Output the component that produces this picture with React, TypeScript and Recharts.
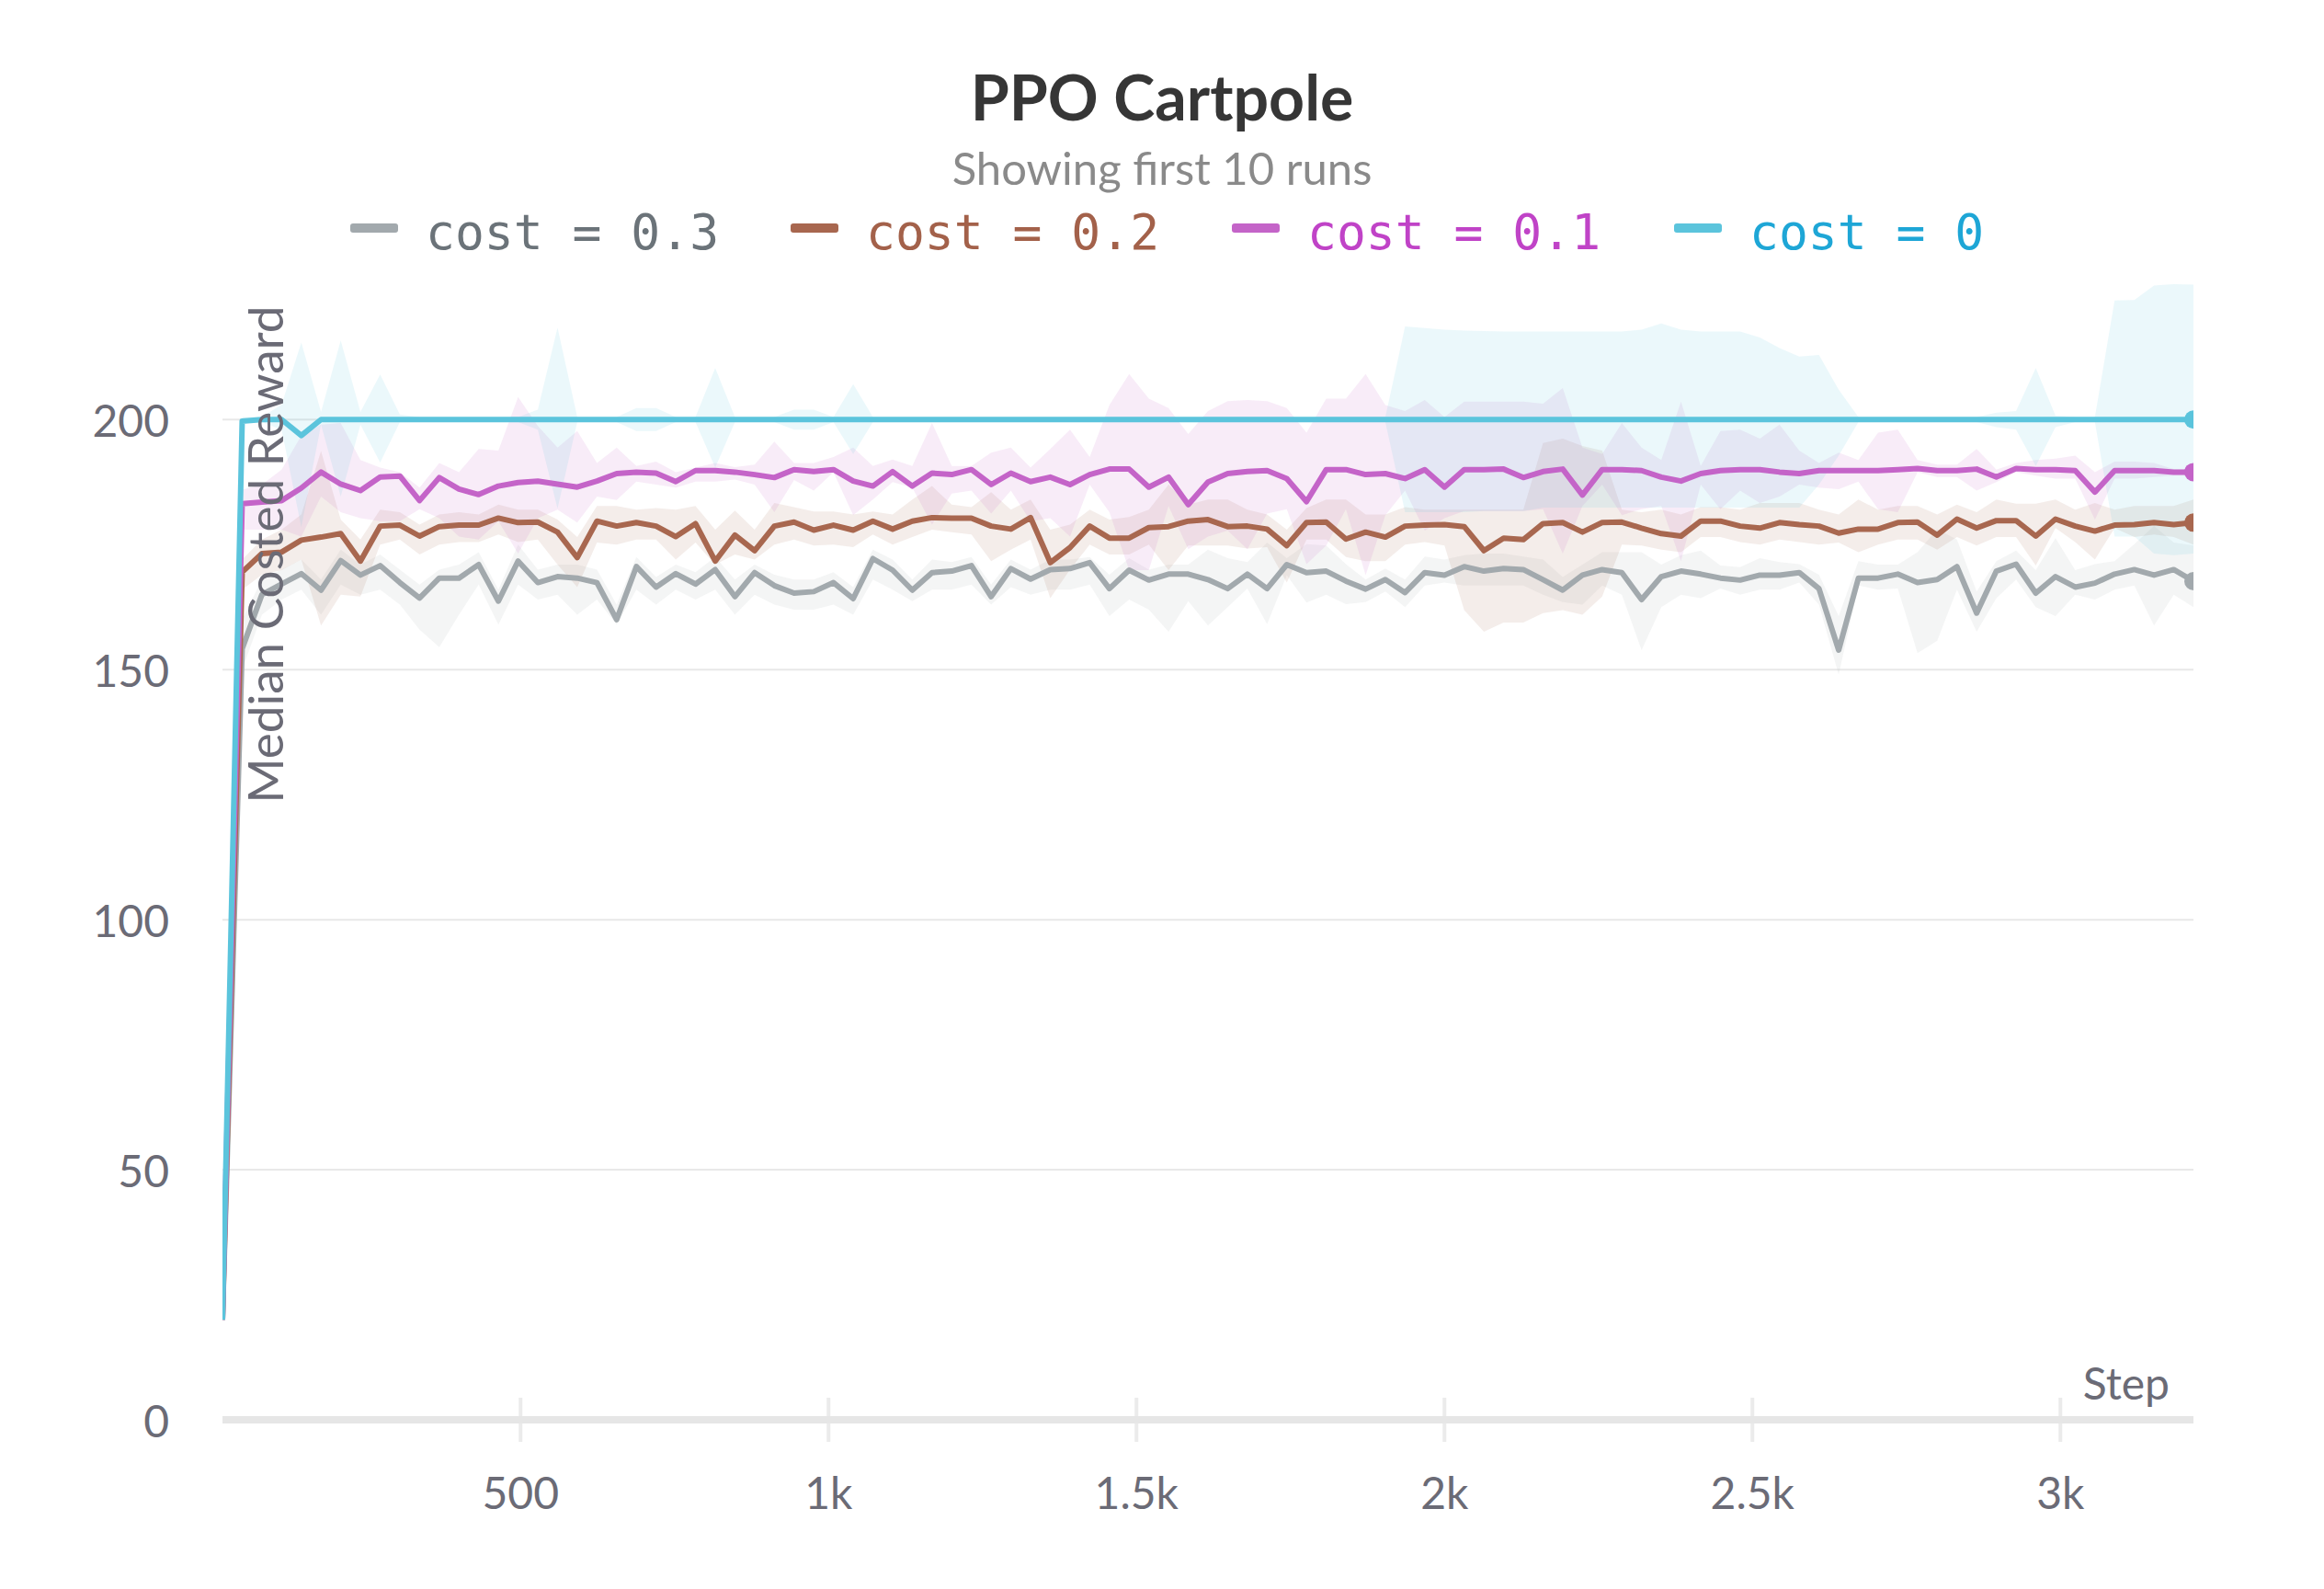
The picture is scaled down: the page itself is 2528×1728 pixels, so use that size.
import React from "react"
import { Area, CartesianGrid, ComposedChart, Line, XAxis, YAxis } from "recharts"

// x positions (training step) of the logged points
const STEPS = [
  16, 48, 80, 112, 144, 176, 208, 240, 272, 304,
  336, 368, 400, 432, 464, 496, 528, 560, 592, 624,
  656, 688, 720, 752, 784, 816, 848, 880, 912, 944,
  976, 1008, 1040, 1072, 1104, 1136, 1168, 1200, 1232, 1264,
  1296, 1328, 1360, 1392, 1424, 1456, 1488, 1520, 1552, 1584,
  1616, 1648, 1680, 1712, 1744, 1776, 1808, 1840, 1872, 1904,
  1936, 1968, 2000, 2032, 2064, 2096, 2128, 2160, 2192, 2224,
  2256, 2288, 2320, 2352, 2384, 2416, 2448, 2480, 2512, 2544,
  2576, 2608, 2640, 2672, 2704, 2736, 2768, 2800, 2832, 2864,
  2896, 2928, 2960, 2992, 3024, 3056, 3088, 3120, 3152, 3184,
  3216,
]

const X_TICKS = [500, 1000, 1500, 2000, 2500, 3000]
const X_TICK_LABELS = ["500", "1k", "1.5k", "2k", "2.5k", "3k"]
const Y_TICKS = [0, 50, 100, 150, 200]

// cost = 0.3
const COST_03 = [
  20, 154.2, 165.0, 167.1, 169.2, 165.9, 171.8, 168.9, 170.8, 167.4,
  164.3, 168.3, 168.3, 171.0, 163.7, 171.7, 167.4, 168.6, 168.3, 167.4,
  160.0, 170.6, 166.5, 169.2, 167.1, 170.0, 164.6, 169.4, 166.8, 165.3,
  165.6, 167.4, 164.2, 172.2, 169.9, 165.9, 169.4, 169.7, 170.8, 164.6,
  170.2, 168.1, 170.0, 170.2, 171.4, 166.2, 169.9, 167.9, 169.1, 169.1,
  168.0, 166.2, 169.1, 166.2, 171.0, 169.4, 169.7, 167.7, 166.1, 168.0,
  165.4, 169.4, 168.9, 170.6, 169.7, 170.2, 170.0, 168.0, 165.9, 168.9,
  170.0, 169.4, 164.0, 168.6, 169.7, 169.1, 168.3, 167.9, 168.9, 168.9,
  169.4, 166.2, 153.9, 168.3, 168.3, 169.1, 167.4, 168.0, 170.6, 161.3,
  169.7, 171.1, 165.3, 168.6, 166.5, 167.3, 169.1, 170.0, 168.9, 170.0,
  167.7,
]
const COST_03_MIN = [
  20, 150, 161, 164, 166, 161, 167, 165, 166, 163,
  158, 154.5, 161, 167, 159, 167, 164, 165, 161, 164,
  159, 166, 163, 166, 164, 166, 161, 165, 163, 162,
  162, 163, 161, 168, 166, 163.7, 166, 166, 167, 163,
  166.5, 165, 166, 166, 167, 160.7, 164, 162, 157.6, 163.7,
  158.8, 162.5, 166.2, 159.1, 168.9, 163.4, 165, 163.1, 163.5, 165.6,
  162.5, 166.8, 167.4, 166.8, 166.8, 166.8, 166.8, 165, 163.5, 163,
  166.8, 165, 153.9, 162.5, 165, 164.3, 166.2, 165, 166, 166,
  167.4, 163, 149, 166.8, 166, 166.2, 153.3, 155.8, 166, 157.6,
  164.3, 168, 162.5, 160.7, 165, 164, 166, 166.8, 158.8, 165,
  162.5,
]
const COST_03_MAX = [
  20, 160, 168, 170, 172, 168, 174, 171, 173, 170,
  167, 170, 171, 173.5, 166, 175, 170, 171, 171, 170,
  163, 172.5, 168.5, 171, 169.5, 172.5, 168, 171, 169, 168,
  168, 169.5, 166.5, 174, 172, 168, 172, 171.5, 172.5, 167,
  172, 170, 172, 172, 172.5, 169, 172.3, 170, 171, 171,
  174, 172.3, 171.5, 175.4, 172.3, 175.1, 174.8, 171.1, 168, 170.2,
  168, 172.6, 172, 172.9, 173.2, 173.2, 172.6, 172, 168.5, 171,
  173.5, 173.5, 173.5, 171, 172.9, 173.8, 170.8, 170.5, 172.3, 171.5,
  171.1, 169, 160.7, 171.7, 171, 171, 173.5, 178.1, 176, 165.6,
  171.7, 173.8, 169.9, 176.3, 169.9, 171.1, 171.7, 175.1, 178.7, 175.4,
  174.8,
]

// cost = 0.2
const COST_02 = [
  20, 169.5, 173.2, 173.5, 175.9, 176.5, 177.2, 171.7, 178.7, 178.9,
  176.7, 178.6, 178.9, 178.9, 180.3, 179.4, 179.5, 177.5, 172.4, 179.7,
  178.7, 179.4, 178.7, 176.6, 179.2, 171.7, 176.9, 173.8, 178.7, 179.5,
  177.9, 178.9, 177.9, 179.7, 178.1, 179.7, 180.4, 180.3, 180.3, 178.7,
  178.1, 180.4, 171.4, 174.4, 178.7, 176.3, 176.3, 178.4, 178.6, 179.7,
  180.0, 178.6, 178.7, 178.1, 174.8, 179.4, 179.5, 176.1, 177.5, 176.5,
  178.7, 178.9, 179.0, 178.6, 173.8, 176.3, 176.0, 179.2, 179.4, 177.5,
  179.4, 179.5, 178.3, 177.2, 176.7, 179.7, 179.7, 178.7, 178.3, 179.4,
  179.0, 178.7, 177.3, 178.1, 178.1, 179.4, 179.5, 176.9, 180.1, 178.3,
  179.8, 179.8, 176.7, 180.1, 178.7, 177.7, 178.9, 179.0, 179.4, 179.0,
  179.4,
]
const COST_02_MIN = [
  20, 166, 169, 169.9, 172, 158.8, 165, 164.6, 175, 176,
  173, 175, 175.5, 175.5, 177, 175.5, 176, 171, 166.5, 175.4,
  175, 176, 176, 172, 175.4, 171, 173, 172, 175, 176,
  174.8, 175, 174.5, 177, 175, 176.5, 178, 177.5, 177, 171.7,
  174, 176, 164.3, 170, 175, 173, 173, 175, 169.9, 174.8,
  174.8, 174.8, 174.2, 174.5, 167.4, 176, 176, 172.5, 171.7, 171.7,
  175, 175.5, 174.8, 161.9, 157.6, 159.4, 159.4, 161.3, 161.9, 161,
  164.6, 175, 174.8, 174, 173.5, 176.5, 176.5, 175.5, 175, 176,
  175.5, 175, 175.4, 173.5, 175, 176, 176, 174, 176.5, 174.8,
  176.5, 176.5, 170.8, 178.3, 175.5, 172, 178.3, 176.5, 177, 176.5,
  175,
]
const COST_02_MAX = [
  20, 172, 176, 178, 181, 193.7, 180, 176, 182, 181.5,
  179, 181, 181.5, 181, 183, 182, 182, 180, 176.5, 182.7,
  182.7, 182, 182.3, 182, 182.7, 178, 181.8, 178, 183.3, 182.5,
  181.6, 181.6, 181, 181.6, 181, 184, 186.7, 183, 182.5, 185.5,
  182, 184, 178, 179, 182, 180, 180.5, 182, 187, 183,
  184, 184, 182, 181, 178, 182.3, 184, 184, 181, 181,
  182.5, 182, 182, 182, 182, 182, 182, 195.3, 196.2, 194.7,
  193.8, 182, 181.5, 182, 181, 182.5, 182.5, 182, 183.3, 183.3,
  183.3, 182, 181, 184, 182, 182.7, 182.7, 181, 183, 181.5,
  184, 183.2, 183.2, 184, 182, 183.3, 182, 182.7, 182.7, 182.7,
  184,
]

// cost = 0.1
const COST_01 = [
  20, 183.2, 183.5, 183.8, 186.3, 189.5, 187.1, 185.8, 188.5, 188.7,
  183.8, 188.4, 186.1, 185.0, 186.7, 187.4, 187.7, 187.1, 186.5, 187.7,
  189.2, 189.5, 189.3, 187.6, 189.8, 189.8, 189.5, 189.0, 188.4, 190.0,
  189.6, 190.0, 187.7, 186.7, 189.6, 186.7, 189.3, 189.0, 190.0, 187.0,
  189.3, 187.6, 188.5, 187.0, 189.0, 190.1, 190.1, 186.5, 188.5, 183.0,
  187.5, 189.2, 189.6, 189.8, 188.2, 183.6, 190.0, 190.0, 189.0, 189.2,
  188.2, 190.0, 186.5, 190.0, 190.0, 190.1, 188.4, 189.6, 190.1, 184.9,
  190.0, 190.0, 189.8, 188.5, 187.7, 189.2, 189.8, 190.0, 190.0, 189.5,
  189.2, 189.8, 189.8, 189.8, 189.8, 190.0, 190.2, 189.8, 189.8, 190.1,
  188.5, 190.2, 190.0, 190.0, 189.8, 185.5, 189.8, 189.8, 189.8, 189.5,
  189.5,
]
const COST_01_MIN = [
  20, 178, 178, 178, 176.6, 184.6, 181.5, 180.3, 179.7, 179.7,
  182.1, 180.3, 176.6, 176, 179.7, 173.2, 180.3, 182, 179.4, 184.6,
  183.9, 187.6, 187, 186.4, 187.6, 187.6, 188, 187, 181.5, 187.9,
  185.8, 189.5, 180.9, 184, 187.5, 186.4, 179, 185.2, 185.8, 181.2,
  185.8, 179.7, 180.3, 176.6, 187, 181.5, 169.9, 169.9, 182.7, 174.1,
  176.6, 177.8, 174.1, 181.2, 182.1, 171.1, 174.8, 182.1, 168.9, 180.9,
  185.8, 177.8, 180.3, 181.7, 181.7, 181.7, 181.7, 182.1, 173.2, 182.7,
  187, 180.9, 182.1, 182.7, 171.7, 187, 182.1, 185.8, 183.3, 184.6,
  187, 186.4, 186.1, 187.6, 182.1, 181.5, 189.5, 188.5, 188.5, 185.8,
  187.5, 189.5, 188.8, 188.2, 188.2, 180, 188.2, 188.2, 188.5, 188.8,
  188.8,
]
const COST_01_MAX = [
  20, 186, 187, 190, 196.8, 199, 199.3, 191.9, 190.4, 189.5,
  186.4, 191.3, 189.5, 194.1, 193.8, 204.5, 198.7, 194.4, 197.7, 191.3,
  194.4, 190.7, 191.6, 189.5, 190.4, 191.3, 190.5, 191, 195.6, 191.3,
  191.3, 192.5, 194.4, 190.7, 192, 190.7, 199.3, 190.7, 190.7, 193.4,
  194.4, 190.4, 194.1, 198, 192.5, 202.9, 209.1, 204.2, 202.3, 197.1,
  201.7, 203.7, 203.9, 203.7, 202.3, 197.4, 204.2, 204.2, 209.1, 202.9,
  201.7, 203.9, 200.5, 203.6, 203.6, 203.6, 203.6, 203.2, 206.3, 194.4,
  193.1, 199.3, 194.4, 191.9, 203.6, 190.7, 197.7, 198, 196.2, 199,
  193.8, 191.3, 193.4, 191.9, 197.4, 198, 191.9, 191, 191, 194.1,
  190, 191.3, 191.9, 192.2, 192.8, 189.5, 191.6, 191.6, 191.3, 190.1,
  190.1,
]

// cost = 0
const COST_0 = [
  20, 199.7, 200, 200, 196.8, 200, 200, 200, 200, 200,
  200, 200, 200, 200, 200, 200, 200, 200, 200, 200,
  200, 200, 200, 200, 200, 200, 200, 200, 200, 200,
  200, 200, 200, 200, 200, 200, 200, 200, 200, 200,
  200, 200, 200, 200, 200, 200, 200, 200, 200, 200,
  200, 200, 200, 200, 200, 200, 200, 200, 200, 200,
  200, 200, 200, 200, 200, 200, 200, 200, 200, 200,
  200, 200, 200, 200, 200, 200, 200, 200, 200, 200,
  200, 200, 200, 200, 200, 200, 200, 200, 200, 200,
  200, 200, 200, 200, 200, 200, 200, 200, 200, 200,
  200,
]
const COST_0_MIN = [
  20, 199.5, 199.5, 198, 178.5, 199, 184.6, 199, 191.4, 199.5,
  199.5, 199.5, 199.5, 199.5, 199.5, 199.5, 198, 182.2, 199.5, 199.5,
  199.5, 197.7, 197.7, 199.5, 199.5, 190.4, 199.5, 199.5, 199.5, 198,
  198, 199.5, 193.1, 199.5, 199.5, 199.5, 199.5, 199.5, 199.5, 199.5,
  199.5, 199.5, 199.5, 199.5, 199.5, 199.5, 199.5, 199.5, 199.5, 199.5,
  199.5, 199.5, 199.5, 199.5, 199.5, 199.5, 199.5, 199.5, 199.5, 199.5,
  181.5, 181.5, 181.5, 181.5, 181.7, 181.7, 181.7, 182.4, 182.4, 182.4,
  182.4, 182.4, 182.4, 182.4, 182.4, 182.4, 182.4, 182.4, 182.4, 182.4,
  182.4, 187, 192.8, 199.5, 199.5, 199.5, 199.5, 199.5, 199.5, 199.5,
  198.5, 198, 190.7, 198.5, 199.5, 199.5, 176.6, 176.6, 173.2, 172.9,
  173.2,
]
const COST_0_MAX = [
  20, 200.5, 200.5, 203, 215.4, 201.5, 215.8, 201.5, 209, 201,
  200.5, 200.5, 200.5, 200.5, 200.5, 200.5, 202, 218.4, 200.5, 200.5,
  200.5, 202.3, 202.3, 200.5, 200.5, 210.3, 200.5, 200.5, 200.5, 202,
  202, 200.5, 207.1, 200.5, 200.5, 200.5, 200.5, 200.5, 200.5, 200.5,
  200.5, 200.5, 200.5, 200.5, 200.5, 200.5, 200.5, 200.5, 200.5, 200.5,
  200.5, 200.5, 200.5, 200.5, 200.5, 200.5, 200.5, 200.5, 200.5, 200.5,
  218.6, 218.3, 218, 217.8, 217.7, 217.6, 217.6, 217.6, 217.6, 217.6,
  217.6, 217.6, 218, 219.2, 218, 217.6, 217.6, 217.6, 216.4, 214.3,
  212.6, 212.9, 206, 200.5, 200.5, 200.5, 200.5, 200.5, 200.5, 200.5,
  201.4, 201.7, 210.3, 200.8, 200.5, 200.5, 223.8, 223.9, 226.8, 227.1,
  227,
]

const SERIES = [
  { key: "c03", label: "cost = 0.3", color: "#a2a9ad", text: "#6b7379", values: COST_03, min: COST_03_MIN, max: COST_03_MAX },
  { key: "c02", label: "cost = 0.2", color: "#a8674f", text: "#a3614a", values: COST_02, min: COST_02_MIN, max: COST_02_MAX },
  { key: "c01", label: "cost = 0.1", color: "#c464c8", text: "#c043c7", values: COST_01, min: COST_01_MIN, max: COST_01_MAX },
  { key: "c0", label: "cost = 0", color: "#5bc4dc", text: "#1ea6d6", values: COST_0, min: COST_0_MIN, max: COST_0_MAX },
]

const LEGEND_X = [381, 860, 1340, 1821]

const chartData = STEPS.map((step, i) => {
  const row: Record<string, number | number[]> = { step }
  SERIES.forEach(s => {
    row[s.key] = s.values[i]
    row[s.key + "Band"] = [s.min[i], s.max[i]]
  })
  return row
})

const LAST = STEPS.length - 1
const TICK_COLOR = "#6b6b76"
const FONT = "Lato, 'Noto Sans', sans-serif"

// the plot box: left 242, right 2386, top 304, bottom 1544
const X_AXIS_H = 40
const Y_AXIS_W = 60

function XTick({ x, y, payload }: any) {
  const idx = X_TICKS.indexOf(payload.value)
  const top = y - X_AXIS_H - 0
  return (
    <g>
      <line x1={x} x2={x} y1={top - 24} y2={top + 24} stroke="#ebebeb" strokeWidth={4} />
      <text x={x} y={top + 78} textAnchor="middle" dominantBaseline="central" fontFamily={FONT} fontSize={48} fill={TICK_COLOR}>
        {X_TICK_LABELS[idx]}
      </text>
    </g>
  )
}

function YTick({ y, payload }: any) {
  return (
    <text x={184} y={y} textAnchor="end" dominantBaseline="central" fontFamily={FONT} fontSize={48} fill={TICK_COLOR}>
      {payload.value}
    </text>
  )
}

function endDot(color: string) {
  return (props: any) => {
    if (props.index !== LAST) return <g key={`d${props.index}`} />
    return <circle key={`d${props.index}`} cx={props.cx} cy={props.cy} r={10} fill={color} />
  }
}

export default function App() {
  return (
    <div style={{ position: "relative", width: 2528, height: 1728, background: "#fff", fontFamily: FONT }}>
      <style>{"body{margin:0}"}</style>
      <ComposedChart
        width={2528}
        height={1728}
        data={chartData}
        margin={{ top: 304, right: 142, bottom: 184 - X_AXIS_H, left: 242 - Y_AXIS_W }}
      >
        <CartesianGrid vertical={false} horizontalValues={Y_TICKS} stroke="#e8e8e8" strokeWidth={2} />
        <XAxis
          dataKey="step"
          type="number"
          domain={[16, 3216]}
          ticks={X_TICKS}
          interval={0}
          height={X_AXIS_H}
          tickSize={0}
          tickMargin={X_AXIS_H}
          tickLine={false}
          axisLine={false}
          tick={XTick}
          allowDataOverflow
        />
        <YAxis
          type="number"
          domain={[0, 228]}
          ticks={Y_TICKS}
          interval={0}
          width={Y_AXIS_W}
          tickSize={0}
          tickMargin={0}
          tickLine={false}
          axisLine={false}
          tick={YTick}
          allowDataOverflow
        />
        {SERIES.map(s => (
          <Area
            key={s.key + "Band"}
            type="linear"
            dataKey={s.key + "Band"}
            stroke="none"
            fill={s.color}
            fillOpacity={0.12}
            activeDot={false}
            isAnimationActive={false}
          />
        ))}
        {SERIES.map(s => (
          <Line
            key={s.key}
            type="linear"
            dataKey={s.key}
            stroke={s.color}
            strokeWidth={6}
            strokeLinejoin="round"
            dot={endDot(s.color)}
            activeDot={false}
            isAnimationActive={false}
          />
        ))}
      </ComposedChart>

      {/* x axis band, same look as the W&B baseline */}
      <div style={{ position: "absolute", left: 242, width: 2144, top: 1540, height: 8, background: "#e6e6e6" }} />

      <div style={{ position: "absolute", left: 0, width: 2528, top: 71, textAlign: "center", fontSize: 68, lineHeight: "68px", fontWeight: 700, color: "#363636" }}>
        PPO Cartpole
      </div>
      <div style={{ position: "absolute", left: 0, width: 2528, top: 158, textAlign: "center", fontSize: 49, lineHeight: "49px", color: "#8a8a8a" }}>
        Showing first 10 runs
      </div>
      {SERIES.map((s, i) => (
        <div key={s.key}>
          <div style={{ position: "absolute", left: LEGEND_X[i], top: 243, width: 52, height: 10, borderRadius: 3, background: s.color }} />
          <div style={{ position: "absolute", left: LEGEND_X[i] + 82, top: 226, fontFamily: "'DejaVu Sans Mono', monospace", fontSize: 53, lineHeight: "53px", color: s.text, whiteSpace: "pre" }}>
            {s.label}
          </div>
        </div>
      ))}
      <div style={{ position: "absolute", left: 287, top: 603, transform: "translate(-50%, -50%) rotate(-90deg)", fontSize: 53, lineHeight: "53px", color: TICK_COLOR, whiteSpace: "nowrap" }}>
        Median Costed Reward
      </div>
      <div style={{ position: "absolute", right: 2528 - 2360, top: 1480, fontSize: 48, lineHeight: "48px", color: TICK_COLOR }}>
        Step
      </div>
    </div>
  )
}
